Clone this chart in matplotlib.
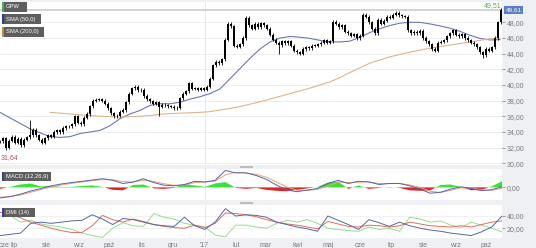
import numpy as np
import matplotlib
matplotlib.use('Agg')
import matplotlib.pyplot as plt
import matplotlib.dates as mdates
import matplotlib.ticker as mticker
from matplotlib.patches import Rectangle
from datetime import datetime

plt.rcParams['font.family'] = ['Liberation Sans', 'DejaVu Sans']

# ---- data ----
# closes, one every ~2 sessions
close = [
    32.8, 33.2, 32.0, 32.9, 33.4, 32.6, 33.1, 32.3, 33.0, 33.3,
    33.6, 34.3, 33.6, 33.0, 32.6, 33.2, 33.6, 33.4, 34.0, 34.2,
    34.0, 34.5, 34.7, 34.7, 35.0, 36.0, 35.2, 35.0, 35.8, 36.3,
    37.3, 38.0, 38.1, 38.2, 38.0, 37.6, 37.0, 36.4, 36.0, 36.1,
    36.6, 36.8, 37.8, 38.9, 39.6, 39.8, 39.3, 39.4, 38.6, 38.2,
    37.9, 37.6, 37.8, 37.2, 37.5, 37.4, 37.3, 37.2, 37.0, 37.1,
    38.3, 38.9, 39.2, 40.2, 39.5, 39.6, 39.4, 39.6, 39.4, 39.8,
    40.8, 42.5, 43.0, 42.8, 43.3, 45.8, 47.8, 47.5, 45.0, 44.9,
    45.2, 46.0, 48.6, 47.6, 47.2, 47.8, 47.4, 47.9, 47.6, 47.2,
    46.4, 45.8, 45.4, 45.1, 45.6, 45.3, 45.6, 45.0, 44.4, 44.2,
    44.0, 44.6, 44.8, 44.7, 45.0, 45.0, 45.2, 45.4, 45.7, 45.4,
    45.6, 48.1, 47.8, 47.4, 47.6, 46.8, 46.6, 46.3, 46.5, 46.0,
    46.3, 49.0, 48.7, 48.0, 47.2, 46.6, 48.3, 47.8, 48.2, 48.7,
    48.6, 49.0, 49.2, 48.9, 48.8, 48.7, 47.0, 46.6, 46.8, 46.6,
    46.9, 46.0, 45.6, 45.2, 44.6, 44.4, 45.4, 45.5, 45.7, 46.2,
    46.6, 47.0, 46.4, 46.2, 46.5, 46.0, 45.7, 45.4, 45.2, 44.8,
    44.2, 43.8, 44.6, 44.4, 44.8, 46.0, 48.0, 49.61,
]
long_wicks = {2: 31.64, 10: 35.5, 53: 36.1, 93: 44.0, 161: 43.4}

sma50 = [
    36.5, 35.8, 35.1, 34.4, 33.9, 33.4, 33.3, 33.4, 33.8, 34.0,
    34.2, 34.8, 35.7, 36.3, 36.75, 37.4, 37.6, 37.6, 37.8, 38.2,
    38.5, 38.9, 39.5, 40.8, 42.1, 43.4, 44.6, 45.5, 46.0, 46.2,
    46.1, 45.95, 45.7, 45.5, 45.5, 45.6, 46.1, 46.7, 47.2, 47.6,
    47.9, 48.0, 48.0, 47.8, 47.55, 47.25, 46.85, 46.35, 45.95, 45.75,
    45.8,
]
nan = float('nan')
sma200 = [
    nan, nan, nan, nan, nan, 36.5, 36.4, 36.3, 36.2, 36.1,
    36.0, 35.95, 35.9, 35.95, 36.0, 36.1, 36.25, 36.35, 36.4, 36.45,
    36.5, 36.6, 36.8, 37.0, 37.25, 37.55, 37.85, 38.2, 38.55, 38.9,
    39.25, 39.6, 40.0, 40.4, 40.95, 41.6, 42.2, 42.8, 43.2, 43.6,
    43.9, 44.2, 44.45, 44.7, 44.9, 45.1, 45.3, 45.5, 45.7, 45.9,
    46.0,
]

macd = [
    -1.1, -0.94, -0.7, -0.37, -0.11, 0.16, 0.36, 0.5, 0.63, 0.76,
    0.9, 0.73, 0.4, 0.56, 0.9, 0.5, 0.23, 0.16, 0.3, 0.63,
    0.56, 0.73, 1.75, 1.5, 1.5, 1.23, 0.83, 0.23, -0.27, -0.44,
    -0.27, -0.11, 0.4, 0.73, 0.4, 0.63, 0.56, 0.3, 0.4, 0.4,
    0.16, -0.17, -0.6, -0.5, -0.17, 0.06, -0.11, -0.34, -0.24, 0.06,
]
macd_signal = [
    -1.0, -0.95, -0.78, -0.5, -0.22, 0.05, 0.25, 0.42, 0.56, 0.7,
    0.8, 0.8, 0.6, 0.55, 0.75, 0.62, 0.38, 0.22, 0.25, 0.5,
    0.55, 0.65, 1.3, 1.55, 1.5, 1.35, 1.05, 0.55, 0.05, -0.3,
    -0.32, -0.2, 0.15, 0.55, 0.5, 0.55, 0.58, 0.4, 0.4, 0.42,
    0.25, 0.0, -0.4, -0.52, -0.3, -0.05, -0.05, -0.25, -0.3, -0.1,
]
macd_hist = [
    -0.15, 0.05, 0.3, 0.4, 0.1, 0.15, 0.05, 0.05, 0.15, 0.2,
    0.05, -0.25, -0.3, 0.25, 0.3, -0.1, -0.15, -0.05, 0.35, 0.2,
    0.05, 0.4, 0.55, -0.05, -0.15, -0.05, -0.25, -0.35, -0.4, -0.25,
    -0.1, 0.05, 0.5, 0.6, -0.15, 0.2, -0.15, -0.05, 0.05, -0.05,
    -0.3, -0.35, -0.3, 0.25, 0.3, 0.05, -0.3, -0.25, 0.1, 0.65,
]

dmi_blue = [
    8, 10, 12, 28, 30, 28, 30, 32, 33, 42,
    35, 26, 36, 34, 30, 26, 24, 23, 38, 24,
    18, 30, 52, 40, 42, 41, 38, 30, 26, 22,
    19, 15, 40, 33, 26, 18, 34, 29, 23, 30,
    24, 20, 17, 15, 12, 10, 8, 14, 22, 40,
]
dmi_red = [
    46, 42, 37, 30, 25, 20, 16, 13, 13, 24,
    41, 34, 30, 35, 31, 26, 23, 21, 20, 25,
    21, 28, 45, 44, 42, 39, 34, 30, 27, 25,
    22, 19, 31, 27, 23, 22, 25, 24, 22, 24,
    30, 27, 24, 23, 22, 24, 22, 26, 30, 32,
]
dmi_green = [
    40, 41, 30, 33, 27, 24, 22, 18, 12, 8,
    5, 20, 29, 24, 23, 44, 38, 35, 28, 25,
    22, 9, 6, 25, 25, 22, 20, 28, 33, 30,
    34, 28, 20, 18, 16, 15, 22, 18, 20, 15,
    38, 35, 30, 32, 25, 21, 30, 25, 20, 14,
]

month_pl = ['sty', 'lut', 'mar', 'kwi', 'maj', 'cze',
            'lip', 'sie', 'wrz', 'paź', 'lis', 'gru']
price_ticks = [30, 32, 34, 36, 38, 40, 42, 44, 46, 48]
dmi_ticks = [20, 40]
last_price = 49.61
max_label = 49.51
min_label = 31.64

# ---- layout ----
W, H = 536, 248
PLOT_W = 502
d0 = datetime(2016, 6, 17)
d1 = datetime(2017, 10, 16)
t0 = mdates.date2num(d0)
t1 = mdates.date2num(d1)
dpp = (t1 - t0) / PLOT_W   # days per pixel

GRID = '#ebebeb'
LBL = '#7a7a7a'
BG = '#eef0f3'

fig = plt.figure(figsize=(W / 100, H / 100), dpi=100, facecolor=BG)


def panel(ytop, ybot):
    ax = fig.add_axes([0, 1 - ybot / H, PLOT_W / W, (ybot - ytop) / H])
    ax.set_facecolor('white')
    for s in ax.spines.values():
        s.set_visible(False)
    ax.set_xlim(t0, t1)
    ax.yaxis.tick_right()
    ax.tick_params(axis='y', labelsize=5, colors=LBL, length=2, width=0.5, pad=1.5)
    ax.tick_params(axis='x', length=0)
    ax.set_xticks([])
    ax.axvline(mdates.date2num(datetime(2017, 1, 1)), color='#e4e4e4', lw=0.6, zorder=0)
    return ax


fmt = mticker.FuncFormatter(lambda v, p: ('%.2f' % v).replace('.', ','))

# main price panel
ax = panel(2, 165)
ax.set_ylim(29.78, 50.6)
ax.set_yticks(price_ticks)
ax.yaxis.set_major_formatter(fmt)
ax.grid(axis='y', color=GRID, lw=0.6, zorder=0)

xs = t0 + np.arange(len(close)) * 3 * dpp
opens = [close[0]] + close[:-1]
lo = np.minimum(opens, close)
hi = np.maximum(opens, close)
body_h = np.maximum(hi - lo, 0.08)
wick_lo = lo - 0.2
wick_hi = hi + 0.2
for i, v in long_wicks.items():
    if v < lo[i]:
        wick_lo[i] = v
    else:
        wick_hi[i] = v
ax.vlines(xs, wick_lo, wick_hi, color='black', lw=0.6, zorder=3)
ax.bar(xs, body_h, bottom=lo, width=2.1 * dpp, color='black', lw=0, zorder=3)

xs51 = t0 + np.arange(len(sma50)) * 10 * dpp
ax.plot(xs51, sma50, color='#6a78b8', lw=0.8, zorder=2)
ax.plot(xs51, sma200, color='#ddb58e', lw=0.8, zorder=2)
ax.axhline(last_price, color='#cfcfcf', lw=1.3, zorder=1)

# MACD panel
axm = panel(169, 200)
axm.set_ylim(-1.3, 1.9)
axm.set_yticks([0])
axm.yaxis.set_major_formatter(fmt)
xs50 = np.linspace(t0, t1, len(macd))
hist = np.array(macd_hist)
axm.fill_between(xs50, 0, hist, where=hist >= 0, interpolate=True,
                 color='#3be03b', lw=0, zorder=2)
axm.fill_between(xs50, 0, hist, where=hist <= 0, interpolate=True,
                 color='#e02424', lw=0, zorder=2)
axm.plot(xs50, macd_signal, color='#eaa36a', lw=0.7, zorder=3)
axm.plot(xs50, macd, color='#5561b8', lw=0.7, zorder=3)

# DMI panel
axd = panel(205, 238)
axd.set_ylim(4, 58)
axd.set_yticks(dmi_ticks)
axd.yaxis.set_major_formatter(fmt)
axd.grid(axis='y', color=GRID, lw=0.5, zorder=0)
axd.plot(xs50, dmi_green, color='#93dd8e', lw=0.7, zorder=2)
axd.plot(xs50, dmi_red, color='#de6f5b', lw=0.7, zorder=3)
axd.plot(xs50, dmi_blue, color='#5566aa', lw=0.7, zorder=4)

# month labels
months = []
y, m = d0.year, d0.month + 1
while datetime(y, m, 1) < d1:
    months.append(datetime(y, m, 1))
    m += 1
    if m > 12:
        y, m = y + 1, 1
ticks = [t0 + 4 * dpp] + [mdates.date2num(d) for d in months]
labels = [month_pl[d0.month - 1]]
for d in months:
    labels.append("'%02d" % (d.year % 100) if d.month == 1 else month_pl[d.month - 1])
axd.set_xticks(ticks)
axd.set_xticklabels(labels)
axd.tick_params(axis='x', labelsize=5, colors=LBL, length=0, pad=3)


# ---- overlay boxes and labels in pixel coordinates ----
def fig_rect(x0, y0, x1, y1, color, z=5):
    fig.add_artist(Rectangle((x0 / W, 1 - y1 / H), (x1 - x0) / W, (y1 - y0) / H,
                             transform=fig.transFigure, color=color, lw=0, zorder=z))


def tag(x0, y0, x1, y1, strip, text):
    fig_rect(x0, y0, x1, y1, '#5e5e5e')
    fig_rect(x0, y0, x0 + 1.5, y1, strip, z=6)
    fig.text((x0 + 4) / W, 1 - (y0 + y1) / 2 / H, text, color='white',
             fontsize=4.2, va='center', ha='left', zorder=7)


tag(2, 2, 27, 12, '#41b649', 'GPW')
tag(2, 14, 41, 24, '#2d3aa0', 'SMA (50,0)')
tag(2, 27, 44, 37, '#c98244', 'SMA (200,0)')
tag(2, 172, 51, 181, '#3a3aa8', 'MACD (12,26,9)')
tag(2, 208, 35, 217, '#3a3aa8', 'DMI (14)')

# last price box and extremes
fig_rect(504, 6, 523, 14, '#5b7fc4')
fig.text(513.5 / W, 1 - 10 / H, ('%.2f' % last_price).replace('.', ','),
         color='white', fontsize=4.6, ha='center', va='center', zorder=7)
fig.text(501 / W, 1 - 5.5 / H, ('%.2f' % max_label).replace('.', ','),
         color='#5aa55a', fontsize=5, ha='right', va='center', zorder=7)
fig.text(1 / W, 1 - 158 / H, ('%.2f' % min_label).replace('.', ','),
         color='#c0504d', fontsize=5, ha='left', va='center', zorder=7)

# panel resize handles
fig_rect(240, 165.5, 253, 168, '#bdbdbd')
fig_rect(240, 201.5, 253, 204, '#bdbdbd')

fig.savefig('out.png', dpi=100, facecolor=BG)
